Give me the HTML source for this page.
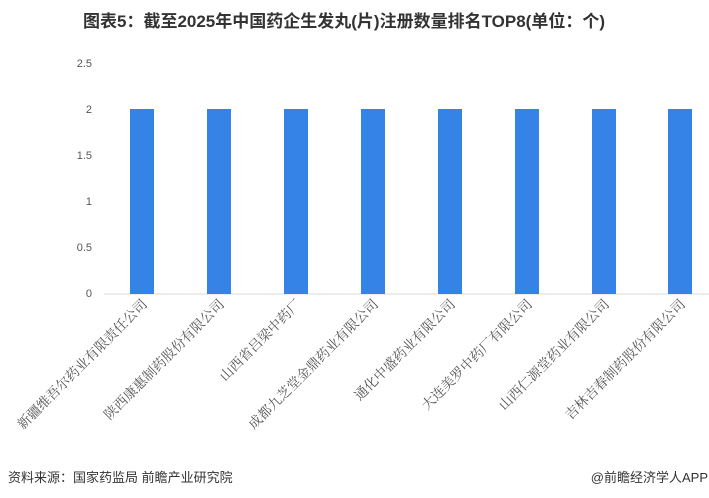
<!DOCTYPE html>
<html><head><meta charset="utf-8"><style>
body{margin:0;background:#fff;}
svg{display:block}
</style></head><body>
<svg width="709" height="498" xmlns="http://www.w3.org/2000/svg">
<text x="344" y="27" text-anchor="middle" font-family="Liberation Sans,'Noto Sans CJK SC',sans-serif" font-weight="bold" font-size="17" fill="#333">图表5：截至2025年中国药企生发丸(片)注册数量排名TOP8(单位：个)</text>
<g font-family="Liberation Sans,sans-serif" font-size="11" fill="#555" text-anchor="end">
<text x="92" y="67">2.5</text>
<text x="92" y="113">2</text>
<text x="92" y="159">1.5</text>
<text x="92" y="205">1</text>
<text x="92" y="251">0.5</text>
<text x="92" y="297">0</text>
</g>
<line x1="104" y1="294" x2="719" y2="294" stroke="#d9d9d9" stroke-width="1"/>
<g fill="#3583E6">
<rect x="130" y="109" width="24" height="185"/>
<rect x="207" y="109" width="24" height="185"/>
<rect x="284" y="109" width="24" height="185"/>
<rect x="361" y="109" width="24" height="185"/>
<rect x="438" y="109" width="24" height="185"/>
<rect x="515" y="109" width="24" height="185"/>
<rect x="592" y="109" width="24" height="185"/>
<rect x="668" y="109" width="24" height="185"/>
</g>
<g font-family="'Noto Serif CJK SC',serif" font-size="13.6" fill="#555" text-anchor="end">
<text transform="translate(148,305) rotate(-45)">新疆维吾尔药业有限责任公司</text>
<text transform="translate(225,305) rotate(-45)">陕西康惠制药股份有限公司</text>
<text transform="translate(302,305) rotate(-45)">山西省吕梁中药厂</text>
<text transform="translate(379,305) rotate(-45)">成都九芝堂金鼎药业有限公司</text>
<text transform="translate(456,305) rotate(-45)">通化中盛药业有限公司</text>
<text transform="translate(533,305) rotate(-45)">大连美罗中药厂有限公司</text>
<text transform="translate(610,305) rotate(-45)">山西仁源堂药业有限公司</text>
<text transform="translate(686,305) rotate(-45)">吉林吉春制药股份有限公司</text>
</g>
<text x="8" y="482" font-family="Liberation Sans,'Noto Sans CJK SC',sans-serif" font-size="13" fill="#333">资料来源：国家药监局 前瞻产业研究院</text>
<text x="708" y="482" text-anchor="end" font-family="Liberation Sans,'Noto Sans CJK SC',sans-serif" font-size="13" fill="#333">@前瞻经济学人APP</text>
</svg>
</body></html>
